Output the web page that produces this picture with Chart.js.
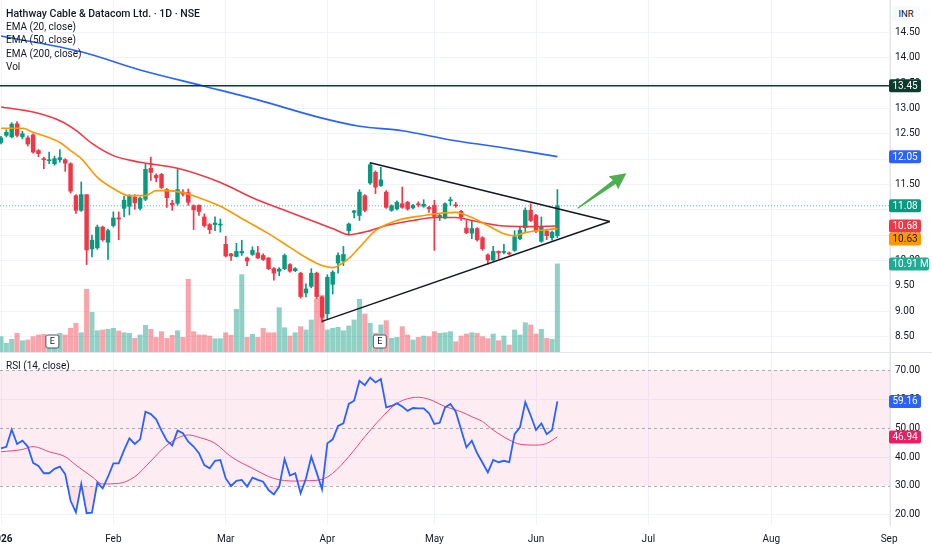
<!DOCTYPE html>
<html lang="en">
<head>
<meta charset="utf-8">
<title>Hathway Cable &amp; Datacom Ltd. · 1D · NSE</title>
<script src="https://cdn.jsdelivr.net/npm/chart.js@4.4.1/dist/chart.umd.min.js"></script>
<style>
  body { margin: 0; background: #ffffff; }
  #wrap { position: relative; width: 932px; height: 550px; overflow: hidden; font-family: Roboto, "Noto Sans", sans-serif; color: #131722; }
  #priceChart { position: absolute; left: 0; top: 0; }
  #rsiChart { position: absolute; left: 0; top: 352px; }
  #sep { position: absolute; left: 0; top: 352px; width: 932px; height: 1px; background: #e0e3eb; }
  .legend { position: absolute; left: 6px; top: 7px; font-size: 10px; line-height: 13.2px; pointer-events: none; }
  .legend .title { font-weight: 500; font-size: 10.5px; }
  #rsiLabel { position: absolute; left: 6px; top: 359px; font-size: 10px; line-height: 13px; }
  #inr { position: absolute; left: 892px; top: 6px; width: 28px; height: 15px; font-size: 9.5px; line-height: 15px; text-align: center; border-radius: 3px; background: #f8f9fd; }
</style>
</head>
<body>
<div id="wrap">
  <canvas id="priceChart" width="932" height="352"></canvas>
  <canvas id="rsiChart" width="932" height="198"></canvas>
  <div id="sep"></div>
  <div class="legend">
    <div class="title">Hathway Cable &amp; Datacom Ltd. · 1D · NSE</div>
    <div>EMA (20, close)</div>
    <div>EMA (50, close)</div>
    <div>EMA (200, close)</div>
    <div>Vol</div>
  </div>
  <div id="rsiLabel">RSI (14, close)</div>
  <div id="inr">INR</div>
</div>

<script>
// ---- data (bar index 0 = 1 Jan 2026) ----
const monthIdx = [0, 21, 42, 61, 81, 100, 121, 144, 166];
const monthNames = ['2026', 'Feb', 'Mar', 'Apr', 'May', 'Jun', 'Jul', 'Aug', 'Sep'];

const opens = [12.33,12.47,12.44,12.70,12.44,12.42,12.48,12.17,12.01,11.97,
  11.91,11.99,11.99,11.91,11.28,10.99,11.30,10.23,10.25,10.66,
  10.36,10.69,10.84,11.03,11.07,11.25,11.03,11.21,11.82,11.68,
  11.70,11.40,11.13,11.13,11.35,11.34,11.08,11.09,10.86,10.71,
  10.71,10.70,10.32,10.13,10.08,10.15,10.05,10.12,10.15,10.10,
  10.05,9.84,9.79,9.84,9.92,9.80,9.75,9.36,9.49,9.75,
  9.28,8.95,9.53,9.95,9.99,10.59,10.95,10.89,11.28,11.53,
  11.74,11.48,11.35,10.99,11.02,11.12,11.15,11.04,11.12,11.07,
  11.05,11.09,10.86,10.84,11.18,11.10,10.97,10.64,10.54,10.63,
  10.45,10.11,10.01,10.18,10.16,10.15,10.20,10.43,10.65,10.99,
  10.89,10.38,10.58,10.45,10.49];
const highs = [12.45,12.58,12.72,12.74,12.55,12.46,12.50,12.19,12.04,12.14,
  12.06,12.19,12.01,11.93,11.30,11.55,11.30,10.50,10.70,10.68,
  10.62,10.96,10.96,11.27,11.30,11.30,11.25,11.90,12.04,11.71,
  11.72,11.42,11.19,11.81,11.40,11.41,11.10,11.10,10.92,10.73,
  10.86,10.82,10.48,10.14,10.34,10.40,10.07,10.27,10.28,10.13,
  10.06,9.86,9.86,10.13,9.94,9.86,9.77,9.54,9.84,9.77,
  9.30,9.72,9.80,10.15,10.28,10.74,10.99,11.40,11.30,11.93,
  11.77,11.84,11.38,11.10,11.18,11.45,11.17,11.11,11.16,11.20,
  11.07,11.19,10.92,11.14,11.25,11.15,10.99,10.79,10.79,10.65,
  10.47,10.13,10.28,10.19,10.32,10.17,10.59,10.66,11.04,11.12,
  10.91,10.86,10.60,10.58,11.40];
const lows = [12.30,12.44,12.42,12.44,12.40,12.26,12.12,12.05,11.81,11.91,
  11.88,11.94,11.76,11.33,10.93,10.97,9.92,10.07,10.22,10.38,
  10.02,10.66,10.41,10.86,10.90,11.01,11.00,11.18,11.58,11.55,
  11.42,11.05,10.99,11.09,11.27,11.09,10.61,10.89,10.66,10.53,
  10.59,10.56,10.07,10.00,10.07,10.10,9.90,10.10,10.04,10.00,
  9.82,9.61,9.70,9.82,9.77,9.78,9.26,9.28,9.46,9.25,
  8.78,8.85,9.34,9.75,9.90,10.50,10.84,10.79,10.96,11.50,
  11.32,11.46,11.03,10.97,11.00,11.03,10.99,11.02,11.06,11.05,
  10.95,10.20,10.79,10.82,11.09,11.05,10.79,10.53,10.43,10.38,
  10.20,9.93,9.99,10.03,10.13,10.11,10.18,10.41,10.56,10.77,
  10.55,10.36,10.41,10.40,10.45];
const closes = [12.42,12.53,12.69,12.47,12.50,12.30,12.14,12.11,11.99,11.98,
  12.01,12.03,11.92,11.37,10.99,11.30,10.21,10.40,10.66,10.41,
  10.59,10.84,10.82,11.19,11.27,11.14,11.23,11.80,11.74,11.63,
  11.44,11.24,11.10,11.40,11.31,11.15,11.00,10.97,10.69,10.61,
  10.74,10.72,10.09,10.09,10.18,10.18,9.99,10.20,10.05,10.02,
  9.84,9.75,9.83,10.10,9.79,9.84,9.29,9.44,9.75,9.29,
  8.88,9.67,9.77,10.10,10.12,10.72,10.98,11.35,10.99,11.89,
  11.45,11.59,11.05,11.08,11.15,11.05,11.02,11.09,11.10,11.11,
  11.02,10.87,10.89,11.12,11.19,11.08,10.86,10.55,10.63,10.41,
  10.23,10.01,10.18,10.15,10.18,10.13,10.47,10.60,10.99,10.79,
  10.58,10.67,10.49,10.56,11.08];
// volume in millions of shares
const volumes = [1.90,1.08,1.57,2.32,1.40,1.49,1.90,2.11,2.19,1.70,
  1.61,2.32,2.11,2.94,3.56,2.39,7.77,4.92,2.64,2.73,
  2.81,2.94,2.60,2.39,2.32,1.70,2.11,3.31,2.81,1.82,
  2.52,1.70,2.07,2.64,1.82,9.01,2.52,2.11,2.11,1.98,
  1.65,1.65,2.39,2.07,5.29,9.59,1.82,2.19,1.82,2.94,
  2.39,2.39,5.49,3.01,1.98,2.39,3.14,2.73,3.97,6.60,
  7.00,2.73,2.94,3.06,2.64,3.22,3.97,6.53,4.71,3.56,
  2.32,3.35,3.88,1.70,1.82,3.14,2.11,1.49,1.82,1.98,
  1.90,2.52,2.32,2.39,2.52,1.28,1.98,2.23,2.39,2.32,
  1.90,1.65,2.23,1.40,1.98,0.87,2.73,2.11,3.63,3.35,
  2.23,2.81,1.70,1.57,10.91];

// moving averages, sampled [bar index, value]
const ema20 = [[0,12.61],[4,12.61],[6,12.53],[11,12.33],[13,12.17],[15,12.01],[18,11.64],[21,11.42],
  [24,11.28],[27,11.28],[29,11.38],[31,11.38],[34,11.34],[37,11.24],[41,11.07],[45,10.83],[50,10.53],
  [54,10.26],[57,10.06],[60,9.90],[62,9.86],[65,10.04],[67,10.26],[70,10.59],[74,10.79],[79,10.89],
  [82,10.93],[85,10.95],[88,10.85],[91,10.69],[94,10.53],[96,10.49],[98,10.55],[102,10.61],[104,10.63]];
const ema50 = [[0,13.03],[6,12.93],[11,12.76],[14,12.57],[17,12.31],[21,12.07],[26,11.94],[33,11.82],
  [41,11.54],[47,11.24],[53,10.99],[59,10.75],[62,10.63],[65,10.51],[69,10.59],[72,10.69],[77,10.79],
  [81,10.85],[85,10.85],[88,10.79],[93,10.69],[98,10.67],[104,10.68]];
const ema200 = [[0,14.43],[15,14.12],[26,13.76],[38,13.44],[48,13.17],[60,12.81],[67,12.65],[75,12.56],
  [84,12.38],[93,12.24],[104,12.05]];

const rsi = [43.0,43.5,49.5,44.5,45.6,43.6,38.0,36.9,34.4,34.4,
  35.9,36.7,34.1,24.9,20.9,30.7,20.6,20.8,31.2,29.2,
  33.2,37.8,37.8,42.4,46.4,44.5,46.1,55.6,54.8,53.0,
  49.1,45.6,44.0,49.1,48.2,45.3,43.6,41.3,37.2,36.1,
  38.7,39.0,32.6,30.0,31.8,32.1,29.8,32.9,32.1,31.5,
  28.6,27.1,29.8,39.3,33.6,34.4,27.5,32.6,40.1,34.6,
  28.9,44.7,46.1,50.7,51.6,58.3,59.4,66.3,64.8,67.4,
  65.7,66.9,57.1,57.6,58.5,57.4,55.9,56.9,56.8,56.8,
  55.1,51.4,51.8,57.1,58.3,55.6,49.5,43.3,45.6,41.3,
  38.0,34.7,39.0,38.2,38.7,38.2,47.9,50.2,58.9,54.3,
  49.3,51.6,47.9,49.3,59.16];
const rsiMa = [[0,41.8],[4,42.6],[6,43.6],[9,41.8],[12,40.1],[14,37.2],[17,33.2],[19,30.7],[22,30.9],
  [25,33.2],[28,38.6],[31,44.1],[35,47.6],[37,46.8],[40,44.7],[43,40.1],[47,36.1],[51,32.6],[55,31.7],
  [57,31.8],[60,32.3],[62,34.4],[65,40.1],[68,47.0],[71,53.3],[74,58.5],[78,60.6],[80,59.9],[83,57.4],
  [86,55.6],[88,53.9],[90,52.2],[92,49.3],[95,45.9],[97,44.4],[100,44.1],[102,44.7],[104,46.94]];

// drawings on the price pane
const resistanceLevel = 13.45;
const upperTrend = [[69, 11.93], [113.8, 10.77]];
const lowerTrend = [[60, 8.80], [113.8, 10.77]];
const arrowFromTo = [[107.8, 11.03], [116.9, 11.72]];
const earningsIdx = [9.6, 70.8];

const priceTicks = [8.5, 9, 9.5, 10, 10.5, 11, 11.5, 12, 12.5, 13, 13.5, 14, 14.5];
const rsiTicks = [20, 30, 40, 50, 60, 70];
const rsiLevels = [30, 50, 70];

const UP = '#089981';
const DOWN = '#f23645';
const X_MIN = -0.19;
const X_MAX = 166.17;

const bars = closes.map((c, i) => i);
const candleColor = bars.map(i => closes[i] >= opens[i] ? UP : DOWN);
const volColor = bars.map(i => closes[i] >= opens[i] ? 'rgba(8,153,129,0.45)' : 'rgba(242,54,69,0.45)');
const pts = arr => arr.map(p => ({ x: p[0], y: p[1] }));

Chart.defaults.font.family = 'Roboto, "Noto Sans", sans-serif';
Chart.defaults.font.size = 10;
Chart.defaults.color = '#131722';

// the panes are laid out edge to edge, so drop the label padding Chart.js adds
function noPadding(s) {
  s.paddingLeft = 0;
  s.paddingRight = 0;
  s.paddingTop = 0;
  s.paddingBottom = 0;
}

function roundBox(ctx, x, y, w, h, r) {
  ctx.beginPath();
  ctx.moveTo(x + r, y);
  ctx.arcTo(x + w, y, x + w, y + h, r);
  ctx.arcTo(x + w, y + h, x, y + h, r);
  ctx.arcTo(x, y + h, x, y, r);
  ctx.arcTo(x, y, x + w, y, r);
  ctx.closePath();
}

function drawBadges(chart, list) {
  const ctx = chart.ctx;
  const left = chart.chartArea.right - 1;
  const placed = list.map(b => ({ ...b, py: b.scale.getPixelForValue(b.value) })).sort((a, b) => a.py - b.py);
  for (let k = 1; k < placed.length; k++) {
    if (placed[k].py - placed[k - 1].py < 13) placed[k].py = placed[k - 1].py + 13;
  }
  ctx.save();
  ctx.font = '10px Roboto, sans-serif';
  ctx.textBaseline = 'middle';
  ctx.textAlign = 'left';
  placed.forEach(b => {
    const w = b.width || 32;
    ctx.fillStyle = b.bg;
    roundBox(ctx, left, b.py - 6.5, w, 13, 2);
    ctx.fill();
    ctx.fillStyle = b.fg || '#ffffff';
    ctx.fillText(b.text, left + 3.5, b.py + 0.5);
  });
  ctx.restore();
}

const priceDecor = {
  id: 'priceDecor',
  beforeDatasetsDraw(chart) {
    const { ctx, chartArea, scales } = chart;
    const y = scales.y.getPixelForValue(closes[closes.length - 1]);
    ctx.save();
    ctx.strokeStyle = 'rgba(8,153,129,0.7)';
    ctx.lineWidth = 1;
    ctx.setLineDash([1, 2]);
    ctx.beginPath();
    ctx.moveTo(chartArea.left, y);
    ctx.lineTo(chartArea.right, y);
    ctx.stroke();
    ctx.restore();
  },
  afterDatasetsDraw(chart) {
    const { ctx, chartArea, scales } = chart;
    const xs = scales.x, ys = scales.y;
    ctx.save();
    // horizontal level
    const ly = ys.getPixelForValue(resistanceLevel);
    ctx.strokeStyle = '#0c3b2e';
    ctx.lineWidth = 1.5;
    ctx.beginPath();
    ctx.moveTo(chartArea.left, ly);
    ctx.lineTo(chartArea.right, ly);
    ctx.stroke();

    // arrow
    const x0 = xs.getPixelForValue(arrowFromTo[0][0]), y0 = ys.getPixelForValue(arrowFromTo[0][1]);
    const x1 = xs.getPixelForValue(arrowFromTo[1][0]), y1 = ys.getPixelForValue(arrowFromTo[1][1]);
    const len = Math.hypot(x1 - x0, y1 - y0);
    ctx.translate(x0, y0);
    ctx.rotate(Math.atan2(y1 - y0, x1 - x0));
    ctx.fillStyle = '#4caf50';
    ctx.beginPath();
    ctx.moveTo(0, -0.6);
    ctx.lineTo(len - 15, -2.4);
    ctx.lineTo(len - 16, -8);
    ctx.lineTo(len, 0);
    ctx.lineTo(len - 16, 8);
    ctx.lineTo(len - 15, 2.4);
    ctx.lineTo(0, 0.6);
    ctx.closePath();
    ctx.fill();
    ctx.restore();

    // earnings markers
    ctx.save();
    ctx.font = '9px Roboto, sans-serif';
    ctx.textAlign = 'center';
    ctx.textBaseline = 'middle';
    earningsIdx.forEach(i => {
      const ex = xs.getPixelForValue(i);
      const ey = chartArea.bottom - 10.5;
      ctx.fillStyle = '#ffffff';
      roundBox(ctx, ex - 6.5, ey - 6.5, 13, 13, 2);
      ctx.fill();
      ctx.strokeStyle = '#50535e';
      ctx.lineWidth = 1;
      ctx.stroke();
      ctx.fillStyle = '#131722';
      ctx.fillText('E', ex, ey + 0.5);
    });
    ctx.restore();
  },
  afterDraw(chart) {
    const ys = chart.scales.y;
    const last = closes.length - 1;
    drawBadges(chart, [
      { scale: ys, value: resistanceLevel, text: resistanceLevel.toFixed(2), bg: '#0c3b2e' },
      { scale: ys, value: ema200[ema200.length - 1][1], text: ema200[ema200.length - 1][1].toFixed(2), bg: '#2962ff' },
      { scale: ys, value: closes[last], text: closes[last].toFixed(2), bg: UP },
      { scale: ys, value: ema50[ema50.length - 1][1], text: ema50[ema50.length - 1][1].toFixed(2), bg: DOWN },
      { scale: ys, value: ema20[ema20.length - 1][1], text: ema20[ema20.length - 1][1].toFixed(2), bg: '#ff9800', fg: '#131722' }
    ]);
    drawBadges(chart, [
      { scale: chart.scales.yVol, value: volumes[last], text: volumes[last].toFixed(2) + ' M', bg: '#22ab94', width: 40 }
    ]);
  }
};

const rsiDecor = {
  id: 'rsiDecor',
  beforeDatasetsDraw(chart) {
    const { ctx, chartArea, scales } = chart;
    const top = scales.y.getPixelForValue(70), bottom = scales.y.getPixelForValue(30);
    ctx.save();
    ctx.fillStyle = 'rgba(233,30,99,0.08)';
    ctx.fillRect(chartArea.left, top, chartArea.right - chartArea.left, bottom - top);
    ctx.strokeStyle = 'rgba(120,123,134,0.6)';
    ctx.lineWidth = 1;
    ctx.setLineDash([3, 3]);
    rsiLevels.forEach(v => {
      const y = Math.round(scales.y.getPixelForValue(v)) + 0.5;
      ctx.beginPath();
      ctx.moveTo(chartArea.left, y);
      ctx.lineTo(chartArea.right, y);
      ctx.stroke();
    });
    ctx.restore();
  },
  afterDraw(chart) {
    const ys = chart.scales.y;
    drawBadges(chart, [
      { scale: ys, value: rsi[rsi.length - 1], text: rsi[rsi.length - 1].toFixed(2), bg: '#2962ff' },
      { scale: ys, value: rsiMa[rsiMa.length - 1][1], text: rsiMa[rsiMa.length - 1][1].toFixed(2), bg: '#e91e63' }
    ]);
  }
};

const monthAxis = (showLabels) => ({
  type: 'linear',
  min: X_MIN,
  max: X_MAX,
  offset: false,
  afterBuildTicks: axis => { axis.ticks = monthIdx.map(v => ({ value: v })); },
  grid: { color: '#f0f3fa', drawTicks: false, offset: false },
  border: { display: false },
  ticks: {
    display: showLabels,
    padding: 8,
    maxRotation: 0,
    autoSkip: false,
    color: '#131722',
    font: ctx => ({ size: 10, weight: ctx.tick && ctx.tick.value === 0 ? 'bold' : 'normal' }),
    callback: v => monthNames[monthIdx.indexOf(v)] || ''
  },
  afterFit: s => { s.height = showLabels ? 25 : 0; noPadding(s); }
});

new Chart(document.getElementById('priceChart'), {
  type: 'bar',
  data: {
    datasets: [
      { type: 'line', label: 'EMA 20', data: pts(ema20), borderColor: '#ff9800', borderWidth: 1.6, pointRadius: 0, cubicInterpolationMode: 'monotone', order: 1 },
      { type: 'line', label: 'EMA 50', data: pts(ema50), borderColor: '#f23645', borderWidth: 1.6, pointRadius: 0, cubicInterpolationMode: 'monotone', order: 1 },
      { type: 'line', label: 'EMA 200', data: pts(ema200), borderColor: '#2962ff', borderWidth: 1.6, pointRadius: 0, cubicInterpolationMode: 'monotone', order: 1 },
      { type: 'line', label: 'upper', data: pts(upperTrend), borderColor: '#131722', borderWidth: 1.4, pointRadius: 0, order: 0 },
      { type: 'line', label: 'lower', data: pts(lowerTrend), borderColor: '#131722', borderWidth: 1.4, pointRadius: 0, order: 0 },
      { label: 'wick', data: bars.map(i => ({ x: i, y: [lows[i], highs[i]] })), backgroundColor: candleColor, barThickness: 1, grouped: false, order: 3 },
      { label: 'body', data: bars.map(i => ({ x: i, y: [opens[i], closes[i]] })), backgroundColor: candleColor, barThickness: 3.8, minBarLength: 1, grouped: false, order: 2 },
      { label: 'Vol', data: bars.map(i => ({ x: i, y: volumes[i] })), backgroundColor: volColor, barThickness: 4.4, grouped: false, yAxisID: 'yVol', order: 10 }
    ]
  },
  options: {
    responsive: false,
    animation: false,
    layout: { padding: 0 },
    plugins: { legend: { display: false }, tooltip: { enabled: false } },
    scales: {
      x: monthAxis(false),
      y: {
        position: 'right',
        min: 8.195,
        max: 15.141,
        afterBuildTicks: axis => { axis.ticks = priceTicks.map(v => ({ value: v })); },
        afterFit: s => { s.width = 42; noPadding(s); },
        grid: { color: '#f0f3fa', drawTicks: false },
        border: { color: '#e0e3eb' },
        ticks: { padding: 5, color: '#131722', callback: v => v.toFixed(2) }
      },
      yVol: { display: false, min: 0, max: 43.6 }
    }
  },
  plugins: [priceDecor]
});

new Chart(document.getElementById('rsiChart'), {
  type: 'line',
  data: {
    datasets: [
      {
        label: 'RSI', data: rsi.map((v, i) => ({ x: i, y: v })), borderColor: '#2962ff', borderWidth: 1.8, pointRadius: 0, tension: 0,
        fill: { target: { value: 30 }, above: 'rgba(0,0,0,0)', below: 'rgba(242,54,69,0.15)' }, order: 1
      },
      { label: 'RSI MA', data: pts(rsiMa), borderColor: '#e8467c', borderWidth: 1, pointRadius: 0, cubicInterpolationMode: 'monotone', order: 2 }
    ]
  },
  options: {
    responsive: false,
    animation: false,
    layout: { padding: 0 },
    plugins: { legend: { display: false }, tooltip: { enabled: false } },
    scales: {
      x: monthAxis(true),
      y: {
        position: 'right',
        min: 16.55,
        max: 76.21,
        afterBuildTicks: axis => { axis.ticks = rsiTicks.map(v => ({ value: v })); },
        afterFit: s => { s.width = 42; noPadding(s); },
        grid: { color: ctx => rsiLevels.includes(ctx.tick && ctx.tick.value) ? 'rgba(0,0,0,0)' : '#f0f3fa', drawTicks: false },
        border: { color: '#e0e3eb' },
        ticks: { padding: 5, color: '#131722', callback: v => v.toFixed(2) }
      }
    }
  },
  plugins: [rsiDecor]
});
</script>
</body>
</html>
